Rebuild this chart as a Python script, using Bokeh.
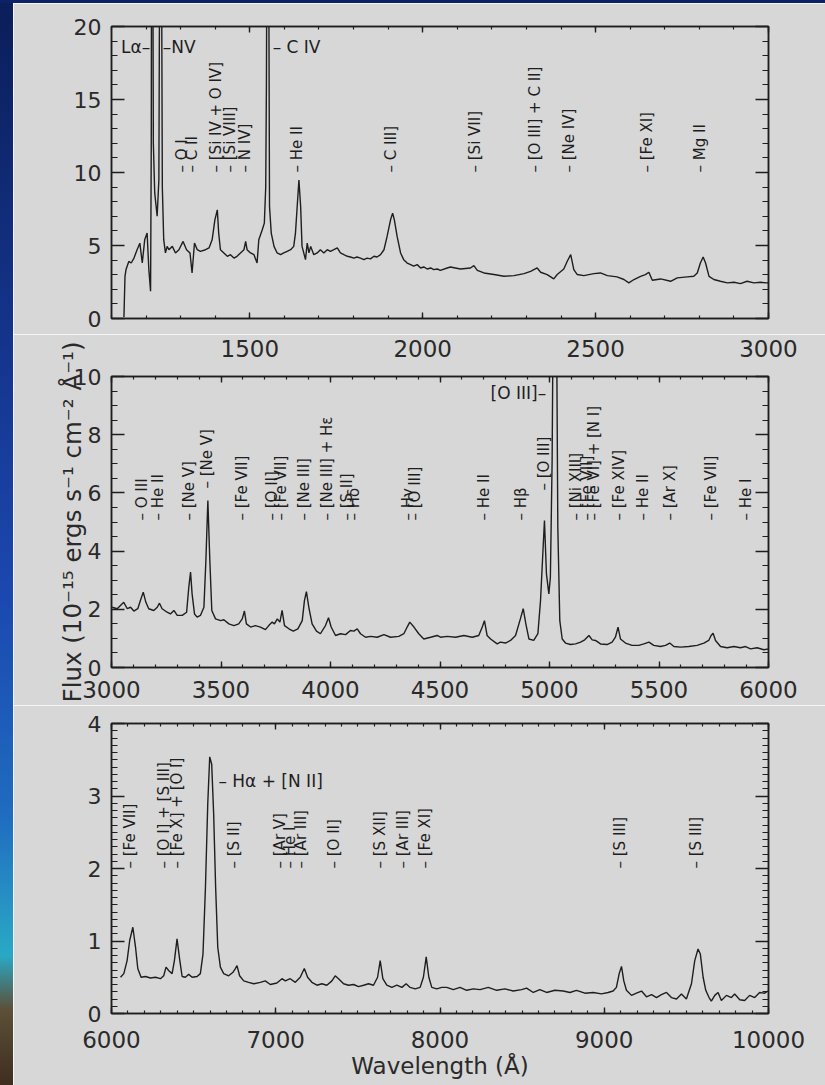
import math
from bokeh.plotting import figure
from bokeh.models import Range1d, LinearAxis, SingleIntervalTicker, Spacer, ColumnDataSource
from bokeh.layouts import column, row
from bokeh.core.properties import value
from bokeh.embed import file_html
from bokeh.resources import INLINE

# ---------------- data: panel 1 (UV) ----------------
wl1 = [1136, 1139, 1142, 1150, 1157, 1165, 1174, 1182, 1189, 1196, 1203, 1208, 1213, 1215, 1216,
       1219, 1221, 1225, 1232, 1237, 1240, 1244, 1247, 1251, 1256, 1261, 1266, 1276, 1285, 1295,
       1307, 1317, 1327, 1333, 1340, 1348, 1357, 1372, 1382, 1391, 1399, 1406, 1410, 1415, 1425,
       1435, 1444, 1454, 1463, 1473, 1483, 1488, 1492, 1502, 1512, 1521, 1526, 1536, 1542, 1546,
       1548, 1550, 1554, 1557, 1562, 1570, 1579, 1589, 1598, 1608, 1618, 1627, 1632, 1637, 1642,
       1647, 1651, 1656, 1661, 1666, 1671, 1676, 1685, 1695, 1704, 1714, 1724, 1733, 1743, 1753,
       1762, 1772, 1782, 1791, 1801, 1810, 1820, 1830, 1839, 1849, 1859, 1868, 1878, 1888, 1897,
       1907, 1913, 1918, 1926, 1936, 1945, 1955, 1965, 1974, 1984, 1994, 2003, 2013, 2023, 2032,
       2042, 2051, 2071, 2080, 2109, 2138, 2148, 2158, 2177, 2206, 2235, 2264, 2293, 2312, 2331,
       2341, 2360, 2379, 2389, 2408, 2418, 2428, 2437, 2447, 2466, 2495, 2514, 2534, 2562, 2582,
       2596, 2611, 2630, 2644, 2654, 2664, 2688, 2717, 2736, 2765, 2784, 2794, 2803, 2811, 2818,
       2828, 2842, 2861, 2881, 2900, 2919, 2938, 2958, 2977, 2994, 3000]
flux1 = [0.10, 2.89, 3.35, 3.91, 3.80, 4.14, 4.71, 5.16, 3.80, 5.39, 5.85, 3.35, 1.87, 12.0, 30.0,
         30.0, 12.0, 8.6, 7.0, 9.5, 30.0, 30.0, 9.0, 5.4, 4.49, 4.94, 4.71, 4.94, 4.49, 4.71,
         5.28, 4.71, 4.49, 3.12, 5.17, 4.71, 4.60, 4.71, 4.83, 5.39, 6.76, 7.44, 5.85, 4.71, 4.49,
         4.26, 4.37, 4.14, 4.26, 4.49, 4.71, 5.28, 4.71, 4.49, 4.37, 3.80, 5.39, 6.08, 6.53, 9.0,
         16.0, 30.0, 30.0, 7.67, 5.85, 4.94, 4.49, 4.37, 4.49, 4.60, 4.71, 4.94, 5.85, 7.67, 9.49,
         7.67, 4.94, 4.49, 4.03, 5.17, 4.49, 4.94, 4.37, 4.49, 4.71, 4.49, 4.71, 4.60, 4.71, 4.83,
         4.49, 4.37, 4.26, 4.21, 4.14, 4.21, 4.14, 4.03, 4.14, 4.08, 4.26, 4.21, 4.37, 4.71, 5.62,
         6.76, 7.22, 6.76, 5.62, 4.49, 4.03, 3.80, 3.69, 3.58, 3.69, 3.46, 3.53, 3.39, 3.46, 3.35,
         3.39, 3.30, 3.46, 3.53, 3.39, 3.46, 3.62, 3.30, 3.12, 3.01, 2.89, 2.94, 3.07, 3.23, 3.46,
         3.17, 3.01, 2.71, 3.01, 3.39, 3.92, 4.37, 3.35, 3.01, 2.94, 3.07, 3.12, 2.94, 2.85, 2.67,
         2.44, 2.67, 2.89, 3.01, 3.17, 2.62, 2.71, 2.55, 2.78, 2.85, 2.89, 3.12, 3.80, 4.21, 3.80,
         2.89, 2.67, 2.55, 2.44, 2.48, 2.39, 2.55, 2.44, 2.48, 2.44, 2.45]

# ---------------- data: panel 2 (blue optical) ----------------
wl2 = [3003, 3026, 3041, 3056, 3072, 3087, 3102, 3120, 3132, 3145, 3157, 3170, 3193, 3209, 3219,
       3231, 3254, 3269, 3285, 3300, 3323, 3343, 3353, 3361, 3368, 3379, 3391, 3406, 3422, 3431,
       3440, 3449, 3458, 3475, 3498, 3513, 3536, 3559, 3581, 3597, 3607, 3616, 3635, 3657, 3680,
       3703, 3718, 3734, 3744, 3757, 3769, 3779, 3790, 3810, 3830, 3851, 3871, 3881, 3890, 3901,
       3916, 3936, 3954, 3977, 3991, 4003, 4023, 4046, 4069, 4091, 4107, 4122, 4137, 4160, 4183,
       4213, 4244, 4274, 4312, 4335, 4350, 4362, 4381, 4403, 4426, 4457, 4487, 4502, 4533, 4571,
       4609, 4647, 4677, 4693, 4703, 4715, 4731, 4761, 4776, 4799, 4822, 4845, 4867, 4880, 4892,
       4906, 4928, 4947, 4959, 4968, 4977, 4986, 4997, 5004, 5012, 5020, 5029, 5038, 5047, 5058,
       5073, 5096, 5119, 5142, 5161, 5180, 5195, 5210, 5233, 5263, 5286, 5301, 5313, 5324, 5347,
       5377, 5408, 5431, 5454, 5476, 5507, 5530, 5549, 5568, 5598, 5636, 5674, 5705, 5727, 5738,
       5747, 5758, 5781, 5811, 5842, 5872, 5895, 5918, 5948, 5979, 6001]
flux2 = [2.07, 2.02, 2.13, 2.24, 2.02, 2.07, 1.94, 2.02, 2.30, 2.59, 2.24, 2.02, 1.96, 2.07, 2.21,
         2.02, 1.90, 1.84, 1.96, 1.79, 1.79, 1.90, 2.76, 3.28, 2.53, 1.84, 1.73, 1.79, 2.07, 3.68,
         5.74, 3.68, 1.96, 1.67, 1.61, 1.64, 1.50, 1.44, 1.50, 1.67, 1.94, 1.50, 1.39, 1.44, 1.39,
         1.30, 1.44, 1.56, 1.50, 1.67, 1.56, 1.96, 1.44, 1.33, 1.25, 1.33, 1.61, 2.30, 2.61, 2.07,
         1.50, 1.25, 1.16, 1.44, 1.71, 1.39, 1.10, 1.16, 1.13, 1.27, 1.25, 1.33, 1.16, 1.04, 1.07,
         1.04, 1.13, 1.04, 1.07, 1.16, 1.39, 1.56, 1.39, 1.16, 0.98, 1.04, 1.10, 1.04, 1.07, 1.04,
         1.10, 1.04, 1.10, 1.39, 1.61, 1.10, 0.98, 0.81, 0.87, 0.84, 0.93, 1.10, 1.67, 2.02, 1.50,
         0.98, 0.93, 1.16, 2.30, 3.68, 5.05, 3.22, 2.53, 3.10, 7.11, 16.0, 16.0, 4.82, 1.61, 0.98,
         0.84, 0.79, 0.81, 0.87, 0.95, 1.10, 0.95, 0.93, 0.81, 0.79, 0.87, 1.04, 1.39, 0.98, 0.84,
         0.76, 0.76, 0.81, 0.87, 0.76, 0.72, 0.76, 0.84, 0.72, 0.70, 0.72, 0.76, 0.84, 0.93, 1.10,
         1.18, 0.93, 0.72, 0.68, 0.72, 0.68, 0.72, 0.64, 0.68, 0.61, 0.64]

# ---------------- data: panel 3 (red optical / near-IR) ----------------
wl3 = [6055, 6075, 6095, 6111, 6130, 6146, 6160, 6180, 6207, 6237, 6268, 6298, 6318, 6332, 6349,
       6369, 6383, 6399, 6416, 6430, 6450, 6470, 6491, 6521, 6541, 6557, 6572, 6586, 6598, 6610,
       6622, 6634, 6647, 6663, 6683, 6713, 6740, 6754, 6764, 6780, 6805, 6835, 6866, 6906, 6936,
       6967, 7007, 7038, 7058, 7088, 7119, 7149, 7174, 7194, 7220, 7251, 7281, 7311, 7342, 7362,
       7382, 7413, 7443, 7474, 7504, 7535, 7565, 7595, 7620, 7636, 7652, 7676, 7707, 7737, 7768,
       7794, 7818, 7849, 7879, 7899, 7916, 7932, 7950, 7980, 8011, 8041, 8081, 8122, 8162, 8203,
       8244, 8294, 8345, 8396, 8446, 8497, 8527, 8568, 8608, 8649, 8700, 8750, 8791, 8831, 8882,
       8933, 8983, 9024, 9054, 9074, 9091, 9105, 9119, 9135, 9166, 9196, 9227, 9257, 9288, 9318,
       9348, 9379, 9409, 9440, 9470, 9500, 9531, 9551, 9571, 9585, 9602, 9618, 9638, 9652, 9673,
       9693, 9713, 9744, 9774, 9794, 9825, 9855, 9885, 9916, 9946, 9977, 9997]
flux3 = [0.50, 0.55, 0.73, 1.01, 1.19, 0.92, 0.62, 0.50, 0.51, 0.49, 0.50, 0.48, 0.52, 0.64, 0.59,
         0.55, 0.73, 1.03, 0.73, 0.51, 0.50, 0.54, 0.50, 0.51, 0.55, 0.82, 1.74, 2.89, 3.54, 3.44,
         2.75, 1.74, 0.91, 0.64, 0.55, 0.52, 0.57, 0.62, 0.66, 0.52, 0.45, 0.43, 0.41, 0.43, 0.45,
         0.40, 0.42, 0.48, 0.45, 0.48, 0.43, 0.50, 0.62, 0.50, 0.43, 0.39, 0.41, 0.39, 0.45, 0.52,
         0.48, 0.41, 0.39, 0.40, 0.37, 0.39, 0.41, 0.39, 0.50, 0.73, 0.48, 0.39, 0.36, 0.39, 0.36,
         0.41, 0.36, 0.34, 0.36, 0.50, 0.78, 0.50, 0.36, 0.34, 0.36, 0.36, 0.33, 0.36, 0.32, 0.34,
         0.33, 0.36, 0.32, 0.34, 0.31, 0.33, 0.35, 0.29, 0.33, 0.29, 0.32, 0.31, 0.29, 0.32, 0.28,
         0.29, 0.27, 0.29, 0.31, 0.36, 0.55, 0.65, 0.45, 0.32, 0.25, 0.28, 0.31, 0.23, 0.26, 0.22,
         0.26, 0.29, 0.22, 0.20, 0.27, 0.20, 0.41, 0.73, 0.89, 0.82, 0.50, 0.32, 0.22, 0.17, 0.25,
         0.29, 0.18, 0.25, 0.22, 0.27, 0.19, 0.18, 0.25, 0.22, 0.29, 0.28, 0.31]

# ---------------- line identifications ----------------
ids1_names = ["O I", "C II", "[Si IV + O IV]", "[Si VIII]", "N IV]", "He II", "C III]",
              "[Si VII]", "[O III] + C II]", "[Ne IV]", "[Fe XI]", "Mg II"]
ids1_wl = [1304, 1334, 1401, 1444, 1487, 1637, 1907, 2151, 2326, 2422, 2649, 2803]
ids1_flux = [10.0] * 12
top1_names = ["Lα–", "–NV", "– C IV"]
top1_wl = [1212, 1248, 1566]
top1_flux = [18.6, 18.6, 18.6]

ids2_names = ["O III", "He II", "[Ne V]", "[Ne V]", "[Fe VII]", "[O II]", "[Fe VII]", "[Ne III]",
              "[Ne III] + Hε", "[S II]", "Hδ", "Hγ", "[O III]", "He II", "Hβ", "[O III]",
              "[Ni XIII]", "[Fe VII]", "[Fe VI] + [N I]", "[Fe XIV]", "He II", "[Ar X]",
              "[Fe VII]", "He I"]
ids2_wl = [3140, 3212, 3353, 3437, 3597, 3734, 3772, 3878, 3985, 4076, 4107, 4353, 4384,
           4700, 4872, 4974, 5123, 5169, 5205, 5317, 5426, 5552, 5738, 5895]
ids2_flux = [5.05, 5.05, 5.05, 6.15, 5.05, 5.05, 5.05, 5.05, 5.05, 5.05, 5.05, 5.05, 5.05,
             5.05, 5.05, 6.08, 5.05, 5.05, 5.05, 5.05, 5.05, 5.05, 5.05, 5.05]
top2_names = ["[O III]–"]
top2_wl = [4985]
top2_flux = [9.45]

ids3_names = ["[Fe VII]", "[O I] + [S III]", "[Fe X] + [O I]", "[S II]", "[Ar V]", "He I",
              "[Ar III]", "[O II]", "[S XII]", "[Ar III]", "[Fe XI]", "[S III]", "[S III]"]
ids3_wl = [6111, 6322, 6399, 6744, 7028, 7088, 7155, 7352, 7632, 7774, 7909, 9095, 9561]
ids3_flux = [2.0] * 13
top3_names = ["– Hα + [N II]"]
top3_wl = [6651]
top3_flux = [3.21]

# ---------------- styling ----------------
BG = "#d7d7d7"
INK = "#1e1e1e"
FONT = "DejaVu Sans"


def make_fig(xr, yr, height, top, bottom):
    p = figure(width=812, height=height, x_range=Range1d(*xr), y_range=Range1d(*yr),
               output_backend="svg", toolbar_location=None,
               x_axis_location=None, y_axis_location=None,
               min_border_left=98, min_border_right=57,
               min_border_top=top, min_border_bottom=bottom,
               background_fill_color=BG, border_fill_color=BG,
               outline_line_color=INK, outline_line_width=1.5)
    for g in p.grid:
        g.visible = False
    return p


def add_axis(p, side, interval, minor, tick_len, labels=True, standoff=10,
             font_size="23px", range_name=None, ticks=True):
    kw = {}
    if range_name:
        kw["x_range_name"] = range_name
    ax = LinearAxis(ticker=SingleIntervalTicker(interval=interval, num_minor_ticks=minor), **kw)
    ax.major_tick_in = tick_len if ticks else 0
    ax.major_tick_out = 0
    ax.minor_tick_in = (tick_len // 2) if ticks else 0
    ax.minor_tick_out = 0
    ax.axis_line_color = INK if ticks else None
    ax.axis_line_width = 1.5
    ax.major_tick_line_color = INK if ticks else None
    ax.minor_tick_line_color = INK if ticks else None
    ax.major_tick_line_width = 1.4
    ax.minor_tick_line_width = 1.2
    ax.major_label_text_font = FONT
    ax.major_label_text_font_size = font_size
    ax.major_label_text_color = "#2a2a2a"
    ax.major_label_standoff = standoff
    if not labels:
        ax.major_label_text_font_size = "1px"
        ax.major_label_text_color = None
        ax.major_label_standoff = 0
    p.add_layout(ax, side)
    return ax


def add_ids(p, wls, ys, names):
    src = ColumnDataSource(dict(x=wls, y=ys, t=["– " + n for n in names]))
    p.text(x="x", y="y", text="t", source=src, angle=math.pi / 2,
           text_font=value(FONT), text_font_size="15px", text_color=INK,
           text_align="left", text_baseline="middle")


def add_flat(p, wls, ys, names, align):
    src = ColumnDataSource(dict(x=wls, y=ys, t=names))
    p.text(x="x", y="y", text="t", source=src,
           text_font=value(FONT), text_font_size="17px", text_color=INK,
           text_align=align, text_baseline="middle")


# ---------------- panel 1 ----------------
p1 = make_fig((1100, 3000), (0, 20), 331, 23, 16)
add_axis(p1, "below", 500, 5, 6, labels=False)
add_axis(p1, "above", 500, 5, 6, labels=False)
add_axis(p1, "left", 5, 5, 13, standoff=10, font_size="22px")
add_axis(p1, "right", 5, 5, 13, labels=False)
p1.line(wl1, flux1, line_color=INK, line_width=1.4)
add_ids(p1, ids1_wl, ids1_flux, ids1_names)
add_flat(p1, top1_wl[:1], top1_flux[:1], top1_names[:1], "right")
add_flat(p1, top1_wl[1:], top1_flux[1:], top1_names[1:], "left")

# ---------------- panel 2 ----------------
p2 = make_fig((3000, 6000), (0, 10), 371, 42, 38)
p2.extra_x_ranges = {"uv": Range1d(1100, 3000)}
add_axis(p2, "below", 500, 5, 6, standoff=13)
add_axis(p2, "above", 500, 5, 6, labels=False)
add_axis(p2, "above", 500, 5, 0, standoff=20, range_name="uv", ticks=False)
yax2 = add_axis(p2, "left", 2, 4, 13, standoff=10, font_size="22px")
yax2.axis_label = "Flux (10⁻¹⁵ ergs s⁻¹ cm⁻² Å⁻¹)"
yax2.axis_label_text_font = FONT
yax2.axis_label_text_font_size = "24.5px"
yax2.axis_label_text_font_style = "normal"
yax2.axis_label_text_color = "#2a2a2a"
yax2.axis_label_standoff = -16
add_axis(p2, "right", 2, 4, 13, labels=False)
p2.line(wl2, flux2, line_color=INK, line_width=1.4)
add_ids(p2, ids2_wl, ids2_flux, ids2_names)
add_flat(p2, top2_wl, top2_flux, top2_names, "right")

# ---------------- panel 3 ----------------
p3 = make_fig((6000, 10000), (0, 4), 380, 18, 72)
xax3 = add_axis(p3, "below", 1000, 10, 6, standoff=17)
xax3.axis_label = "Wavelength (Å)"
xax3.axis_label_text_font = FONT
xax3.axis_label_text_font_size = "23px"
xax3.axis_label_text_font_style = "normal"
xax3.axis_label_text_color = "#2a2a2a"
xax3.axis_label_standoff = 2
add_axis(p3, "above", 1000, 10, 6, labels=False)
add_axis(p3, "left", 1, 10, 13, standoff=10, font_size="22px")
add_axis(p3, "right", 1, 10, 13, labels=False)
p3.line(wl3, flux3, line_color=INK, line_width=1.4)
add_ids(p3, ids3_wl, ids3_flux, ids3_names)
add_flat(p3, top3_wl, top3_flux, top3_names, "left")

# ---------------- page ----------------
top_strip = Spacer(width=825, height=3, styles={"background": "#0c2166"})
left_strip = Spacer(width=13, height=1082, styles={
    "background": "linear-gradient(to bottom, #0b1e5a 0%, #14338a 30%, #1b48b0 55%, "
                  "#1f6cc0 75%, #29a9c6 88%, #5c5038 93%, #3e2e1e 100%)"})
layout = column(top_strip, row(left_strip, column(p1, p2, p3, spacing=0), spacing=0), spacing=0)

open("out.html", "w").write(file_html(layout, INLINE))
